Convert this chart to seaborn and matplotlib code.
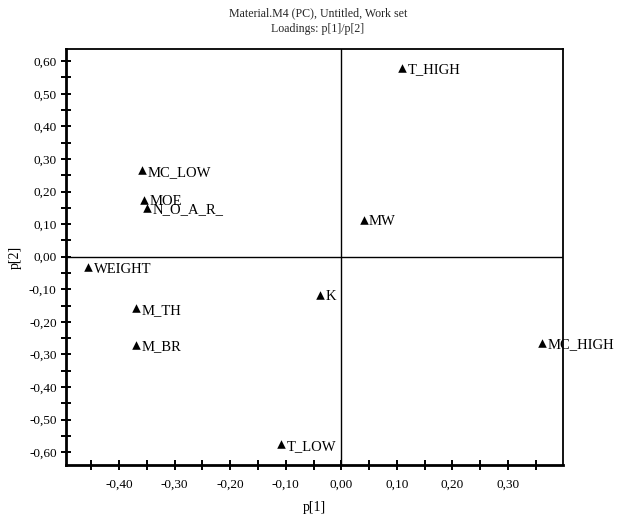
import matplotlib
matplotlib.use("Agg")
import matplotlib.pyplot as plt
from matplotlib.ticker import MultipleLocator, FuncFormatter
import seaborn as sns
import pandas as pd

# Loadings of the PCA model (component 1 vs component 2)
variables = ["T_HIGH", "MW", "MC_LOW", "MOE", "N_O_A_R_", "WEIGHT",
             "M_TH", "M_BR", "K", "T_LOW", "MC_HIGH"]
p1 = [0.110, 0.040, -0.359, -0.355, -0.350, -0.455,
      -0.369, -0.369, -0.039, -0.108, 0.361]
p2 = [0.580, 0.114, 0.265, 0.175, 0.150, -0.033,
      -0.158, -0.270, -0.117, -0.576, -0.265]

title_lines = ["Material.M4 (PC), Untitled, Work set", "Loadings: p[1]/p[2]"]

df = pd.DataFrame({"var": variables, "p1": p1, "p2": p2})

sns.set_theme(style="white")
plt.rcParams["font.family"] = ["Liberation Serif", "DejaVu Serif"]

fig = plt.figure(figsize=(6.2, 5.14), dpi=100)
ax = fig.add_axes([0.106, 0.095, 0.802, 0.810])

sns.scatterplot(data=df, x="p1", y="p2", marker="^", s=38, color="black",
                edgecolor="black", linewidth=0, ax=ax, zorder=3)

for name, x, y in zip(df["var"], df["p1"], df["p2"]):
    ax.annotate(name, (x, y), xytext=(4, -1.5), textcoords="offset points",
                ha="left", va="center", fontsize=10.5, color="black")

# reference lines through the origin
ax.axhline(0, color="black", lw=1.0, zorder=1)
ax.axvline(0, color="black", lw=1.0, zorder=1)

ax.set_xlim(-0.496, 0.399)
ax.set_ylim(-0.640, 0.638)

ax.xaxis.set_major_locator(MultipleLocator(0.10))
ax.xaxis.set_minor_locator(MultipleLocator(0.05))
ax.yaxis.set_major_locator(MultipleLocator(0.10))
ax.yaxis.set_minor_locator(MultipleLocator(0.05))

comma = FuncFormatter(lambda v, pos: f"{v:.2f}".replace(".", ",").replace("-0,00", "0,00"))
ax.xaxis.set_major_formatter(comma)
ax.yaxis.set_major_formatter(comma)

ax.tick_params(axis="both", which="both", direction="inout", length=7,
               width=1.4, color="black", labelsize=9.5, labelcolor="black",
               bottom=True, left=True, top=False, right=False, pad=3)
ax.tick_params(axis="x", which="major", pad=6)

for side, sp in ax.spines.items():
    sp.set_color("black")
    sp.set_linewidth(2.0 if side in ("left", "bottom") else 1.3)

ax.set_xlabel("p[1]", fontsize=10, color="black", labelpad=8)
ax.set_ylabel("p[2]", fontsize=10, color="black", labelpad=5)

fig.text(0.513, 0.974, title_lines[0], ha="center", va="center", fontsize=8.6)
fig.text(0.513, 0.943, title_lines[1], ha="center", va="center", fontsize=8.6)

fig.savefig("out.png", dpi=100)
